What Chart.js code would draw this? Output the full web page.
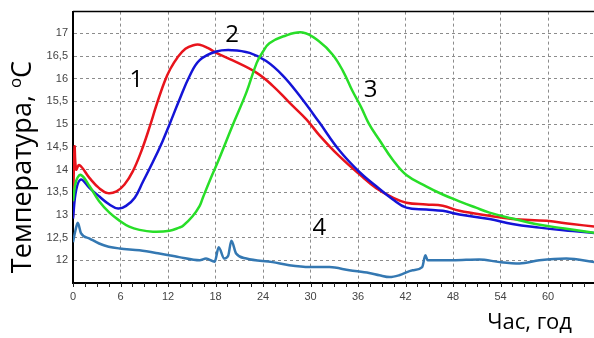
<!DOCTYPE html>
<html>
<head>
<meta charset="utf-8">
<script src="https://cdn.jsdelivr.net/npm/chart.js@4/dist/chart.umd.min.js"></script>
<style>
  body { margin: 0; background: #fff; }
  #chart { display: block; }
</style>
</head>
<body>
<canvas id="chart" width="594" height="338"></canvas>
<script>
// --- Data (hours, temperature °C) ---

// Curve 1 (red)
const hours1 = [0, 0.2, 0.4, 0.8, 2.1, 3.3, 4.4, 5.5, 6.5, 7.55, 8.6, 9.7, 10.5, 11.55, 12.3, 13.2, 14.2, 15.2, 16.0, 17.0, 18.1, 20.1, 23.2, 25.2, 27.3, 29.5, 31.1, 33.6, 36.4, 38.3, 40.4, 42.1, 44.6, 46.7, 48.8, 52.6, 55.5, 59.8, 63, 66];
const temps1 = [12.95, 14.5, 14.0, 14.1, 13.81, 13.59, 13.48, 13.52, 13.67, 13.96, 14.39, 14.95, 15.4, 15.93, 16.22, 16.47, 16.66, 16.74, 16.75, 16.68, 16.57, 16.41, 16.13, 15.85, 15.48, 15.1, 14.76, 14.3, 13.86, 13.59, 13.38, 13.27, 13.23, 13.2, 13.09, 12.98, 12.91, 12.87, 12.8, 12.74];

// Curve 2 (blue)
const hours2 = [0, 0.4, 1.0, 2.1, 3.3, 4.6, 5.7, 6.7, 7.8, 8.8, 10.1, 11.3, 12.2, 13.4, 14.7, 16.0, 18.1, 20.1, 22.3, 24.4, 26.5, 28.6, 31.1, 33.6, 36.2, 38.3, 40.4, 42.1, 44.6, 46.7, 48.8, 52.6, 55.5, 58.9, 62, 66];
const temps2 = [12.92, 13.55, 13.78, 13.59, 13.41, 13.23, 13.14, 13.2, 13.38, 13.72, 14.17, 14.62, 15.0, 15.52, 16.05, 16.41, 16.6, 16.63, 16.57, 16.39, 16.07, 15.63, 15.04, 14.43, 13.94, 13.63, 13.34, 13.16, 13.12, 13.09, 13.01, 12.91, 12.8, 12.72, 12.66, 12.6];

// Curve 3 (green)
const hours3 = [0, 0.4, 1.0, 2.1, 3.3, 4.6, 5.9, 7.1, 8.4, 10.1, 12.2, 13.4, 13.9, 15.1, 16.0, 16.4, 17.4, 18.3, 19.3, 20.1, 21.9, 23.2, 24.0, 24.8, 26.5, 29.0, 31.1, 32.8, 34.1, 35.3, 36.4, 37.4, 38.7, 40.4, 42.1, 44.6, 46.7, 48.8, 50.9, 52.6, 55.5, 58.4, 62.1, 66];
const temps3 = [13.3, 13.75, 13.88, 13.63, 13.3, 13.05, 12.87, 12.74, 12.67, 12.63, 12.65, 12.72, 12.76, 12.97, 13.2, 13.38, 13.81, 14.17, 14.6, 14.95, 15.7, 16.35, 16.6, 16.78, 16.93, 17.02, 16.82, 16.53, 16.17, 15.73, 15.37, 15.0, 14.65, 14.21, 13.88, 13.63, 13.45, 13.3, 13.16, 13.05, 12.92, 12.8, 12.7, 12.6];

// Curve 4 (steel blue)
const hours4 = [0, 0.3, 0.6, 1.0, 2.1, 3.3, 4.5, 5.9, 8.4, 10.9, 13.4, 16.0, 16.8, 17.9, 18.4, 19.1, 19.6, 20.0, 20.6, 21.9, 25.2, 27.3, 29.9, 32.4, 34.9, 37.4, 38.7, 40.0, 41.2, 42.9, 44.1, 44.5, 44.8, 45.4, 48, 51.3, 53.9, 56.4, 58.9, 62.3, 66];
const temps4 = [12.4, 12.65, 12.83, 12.6, 12.48, 12.37, 12.3, 12.26, 12.22, 12.15, 12.07, 12.0, 12.04, 11.97, 12.29, 12.04, 12.1, 12.43, 12.15, 12.04, 11.96, 11.89, 11.85, 11.85, 11.78, 11.72, 11.67, 11.63, 11.67, 11.78, 11.85, 12.11, 12.0, 12.0, 12.0, 12.02, 11.96, 11.93, 12.0, 12.04, 11.96];

// Curve numbers placed in data coordinates
const curveNames = ['1', '2', '3', '4'];
const nameHours = [8.0, 20.1, 37.6, 31.1];
const nameTemps = [15.98, 16.96, 15.74, 12.71];

const yTitle = 'Температура, ';
const xTitle = 'Час, год';

function toPoints(xs, ys) {
    return xs.map((x, i) => ({ x: x, y: ys[i] }));
}

function lineSet(xs, ys, color, width, smooth) {
    const set = {
        data: toPoints(xs, ys),
        borderColor: color,
        borderWidth: width,
        pointRadius: 0,
        fill: false
    };
    if (smooth) {
        set.tension = 0.4;
    } else {
        set.cubicInterpolationMode = 'monotone';
    }
    return set;
}

// Draws frame top line, minor x ticks, curve numbers and axis titles
const decorPlugin = {
    id: 'decor',
    afterDatasetsDraw(chart) {
        const { ctx, chartArea, scales } = chart;
        const xs = scales.x, ys = scales.y;
        ctx.save();

        // top frame line
        ctx.strokeStyle = '#000';
        ctx.lineWidth = 1.5;
        ctx.beginPath();
        ctx.moveTo(chartArea.left, chartArea.top);
        ctx.lineTo(chartArea.right, chartArea.top);
        ctx.stroke();

        // small ticks under the x axis
        ctx.lineWidth = 1;
        ctx.strokeStyle = '#222';
        for (let h = 0; h <= xs.max; h += 1.5) {
            const px = Math.round(xs.getPixelForValue(h)) + 0.5;
            ctx.beginPath();
            ctx.moveTo(px, chartArea.bottom);
            ctx.lineTo(px, chartArea.bottom + 4);
            ctx.stroke();
        }

        // curve numbers
        ctx.fillStyle = '#000';
        ctx.font = '24px "Open Sans", sans-serif';
        ctx.textAlign = 'center';
        ctx.textBaseline = 'middle';
        curveNames.forEach((name, i) => {
            ctx.fillText(name, xs.getPixelForValue(nameHours[i]), ys.getPixelForValue(nameTemps[i]));
        });

        // x title
        ctx.font = '22px "Open Sans", sans-serif';
        ctx.textAlign = 'right';
        ctx.fillText(xTitle, 572, 323);

        // y title (rotated) with superscript o
        ctx.translate(31, 167);
        ctx.rotate(-Math.PI / 2);
        ctx.textBaseline = 'alphabetic';
        const big = '27px "Open Sans", sans-serif';
        const small = '17px "Open Sans", sans-serif';
        ctx.font = big;
        const w1 = ctx.measureText(yTitle).width;
        const w3 = ctx.measureText('C').width;
        ctx.font = small;
        const w2 = ctx.measureText('o').width;
        const x0 = -(w1 + w2 + w3) / 2;
        ctx.textAlign = 'left';
        ctx.font = big;
        ctx.fillText(yTitle, x0, 0);
        ctx.fillText('C', x0 + w1 + w2, 0);
        ctx.font = small;
        ctx.fillText('o', x0 + w1, -10);

        ctx.restore();
    }
};

new Chart(document.getElementById('chart'), {
    type: 'line',
    data: {
        datasets: [
            lineSet(hours4, temps4, 'rgb(52,120,178)', 2.5, false),
            lineSet(hours3, temps3, 'rgb(40,222,40)', 2.5, true),
            lineSet(hours2, temps2, 'rgb(20,20,215)', 2.5, true),
            lineSet(hours1, temps1, 'rgb(232,20,28)', 2.5, true)
        ]
    },
    options: {
        responsive: false,
        animation: false,
        layout: { padding: { top: 8, right: 0, left: 0, bottom: 0 } },
        plugins: {
            legend: { display: false },
            tooltip: { enabled: false }
        },
        scales: {
            x: {
                type: 'linear',
                min: 0,
                max: 65.8,
                afterFit: s => { s.height = 55; },
                ticks: {
                    stepSize: 6,
                    includeBounds: false,
                    color: '#444',
                    padding: 7,
                    font: { family: 'Arial, "Liberation Sans"', size: 11 },
                    maxRotation: 0
                },
                grid: { color: '#8c8c8c', lineWidth: 1, drawTicks: false },
                border: { display: true, color: '#000', width: 2, dash: [3, 3] }
            },
            y: {
                type: 'linear',
                min: 11.5,
                max: 17.48,
                afterFit: s => { s.width = 73; },
                ticks: {
                    stepSize: 0.5,
                    includeBounds: false,
                    color: '#444',
                    padding: 5,
                    font: { family: 'Arial, "Liberation Sans"', size: 11 },
                    callback: v => (v < 11.9 ? '' : String(v).replace('.', ','))
                },
                grid: { color: '#8c8c8c', lineWidth: 1, drawTicks: false },
                border: { display: true, color: '#000', width: 2, dash: [3, 3] }
            }
        }
    },
    plugins: [decorPlugin]
});
</script>
</body>
</html>
